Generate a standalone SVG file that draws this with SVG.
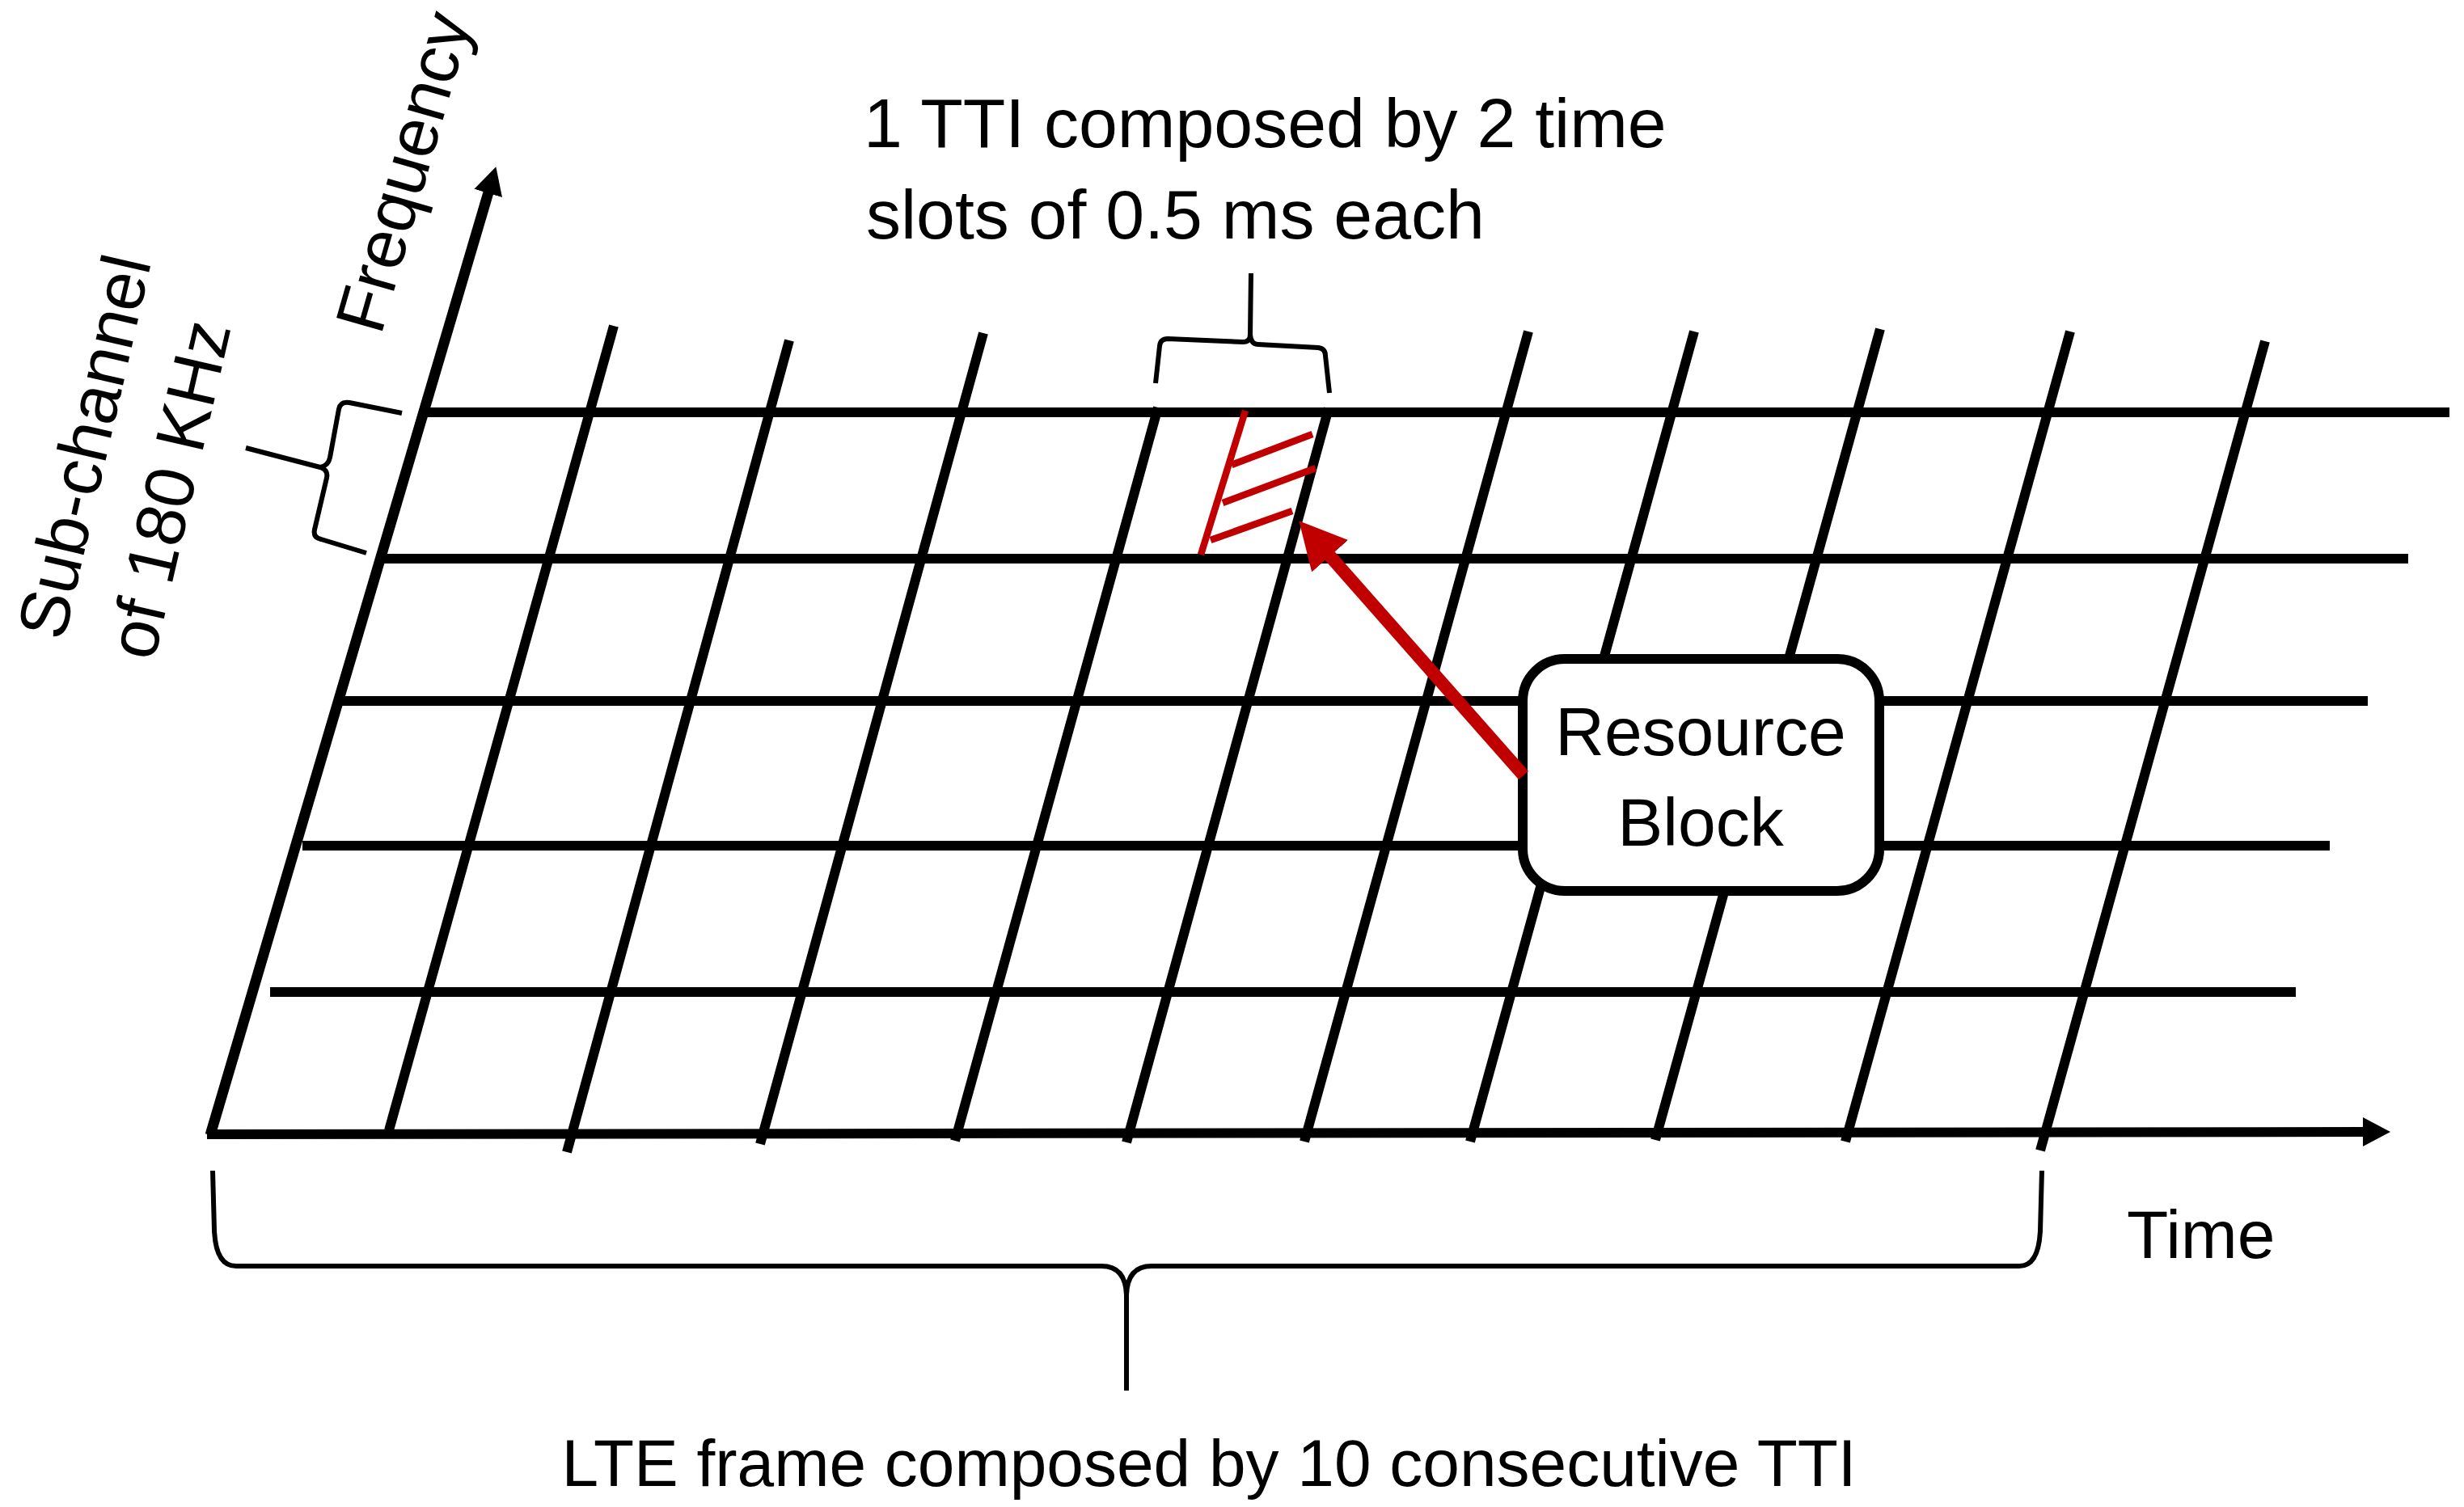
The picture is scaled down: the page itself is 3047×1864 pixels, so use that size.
<svg xmlns="http://www.w3.org/2000/svg" width="3047" height="1864" viewBox="0 0 3047 1864">
<style>
.grid{stroke:#000;stroke-width:12;fill:none}
.axis{stroke:#000;stroke-width:13;fill:none}
.brace{stroke:#000;stroke-width:6;fill:none;stroke-linejoin:round;stroke-linecap:butt}
.hatch{stroke:#C00000;stroke-width:8.5;fill:none}
.txt{font-family:"Liberation Sans",Arial,sans-serif;fill:#000}
</style>
<defs>
<marker id="blackHead" markerUnits="userSpaceOnUse" viewBox="0 -19 36 38" markerWidth="36" markerHeight="38" refX="1" refY="0" orient="auto">
<path d="M0,-18 L34,0 L0,18 Z" fill="#000"/>
</marker>
<marker id="redHead" markerUnits="userSpaceOnUse" viewBox="0 -31 60 62" markerWidth="60" markerHeight="62" refX="1" refY="0" orient="auto">
<path d="M0,-30 L58,0 L0,30 Z" fill="#C00000"/>
</marker>
</defs>
<rect width="3047" height="1864" fill="#fff"/>
<g id="grid">
<line class="grid" x1="524" y1="510" x2="3029" y2="510"/>
<line class="grid" x1="470" y1="691" x2="2978" y2="691"/>
<line class="grid" x1="418" y1="867" x2="2928" y2="867"/>
<line class="grid" x1="374" y1="1046" x2="2881" y2="1046"/>
<line class="grid" x1="334" y1="1227" x2="2839" y2="1227"/>
<line class="grid" x1="481" y1="1398" x2="759" y2="403"/>
<line class="grid" x1="701" y1="1425" x2="976" y2="421"/>
<line class="grid" x1="940" y1="1415" x2="1216" y2="412"/>
<line class="grid" x1="1181" y1="1411" x2="1432" y2="504"/>
<line class="grid" x1="1393" y1="1413" x2="1643" y2="505"/>
<line class="grid" x1="1613" y1="1412" x2="1890" y2="410"/>
<line class="grid" x1="1818" y1="1412" x2="2095" y2="410"/>
<line class="grid" x1="2047" y1="1410" x2="2325" y2="407"/>
<line class="grid" x1="2282" y1="1412" x2="2560" y2="410"/>
<line class="grid" x1="2523" y1="1423" x2="2801" y2="422"/>
</g>
<g id="axes">
<line class="axis" x1="260" y1="1404" x2="604" y2="238" marker-end="url(#blackHead)"/>
<line class="grid" x1="256" y1="1403" x2="2923" y2="1400" marker-end="url(#blackHead)"/>
</g>
<g id="braces">
<path class="brace" d="M497,511 L432,498 Q421,496 419,506 L408,566 Q406,576 396,578 L304,554 M396,578 Q406,581 404,591 L389,655 Q387,665 397,667 L453,684"/>
<path class="brace" d="M1429,474 L1434,428 Q1435,419 1444,419 L1537,423 Q1546,423 1546,414 L1547,338 M1546,414 Q1547,426 1556,426 L1630,430 Q1639,431 1639,440 L1644,486"/>
<path class="brace" d="M263,1448 L265,1522 Q267,1566 292,1566 L1362,1566 Q1392,1566 1393,1602 L1393,1720 M1393,1602 Q1394,1566 1424,1566 L2497,1566 Q2521,1566 2523,1522 L2525,1448"/>
</g>
<g id="resource-hatch">
<line class="hatch" x1="1540" y1="508" x2="1485" y2="686"/>
<line class="hatch" x1="1523" y1="575" x2="1623" y2="537"/>
<line class="hatch" x1="1512" y1="622" x2="1627" y2="579"/>
<line class="hatch" x1="1497" y1="668" x2="1598" y2="632"/>
</g>
<g id="labels" class="txt">
<text x="1068" y="182" font-size="86">1 TTI composed by 2 time</text>
<text x="1071" y="295" font-size="86">slots of 0.5 ms each</text>
<text x="2630" y="1556" font-size="84">Time</text>
<text x="1495" y="1838" font-size="82" text-anchor="middle">LTE frame composed by 10 consecutive TTI</text>
<text transform="translate(471,416) rotate(-74)" font-size="86">Frequency</text>
<text transform="translate(133,559) rotate(-77)" font-size="86" text-anchor="middle">Sub-channel</text>
<text transform="translate(238,612) rotate(-77)" font-size="86" text-anchor="middle">of 180 KHz</text>
</g>
<g id="resource-block">
<rect x="1883" y="815" width="441" height="287" rx="52" ry="52" fill="#fff" stroke="#000" stroke-width="12"/>
<text class="txt" x="2103" y="934" font-size="84" text-anchor="middle">Resource</text>
<text class="txt" x="2103" y="1046" font-size="84" text-anchor="middle">Block</text>
</g>
<g id="connectors">
<line x1="1884" y1="959" x2="1644" y2="687" stroke="#C00000" stroke-width="16" marker-end="url(#redHead)"/>
</g>
</svg>
